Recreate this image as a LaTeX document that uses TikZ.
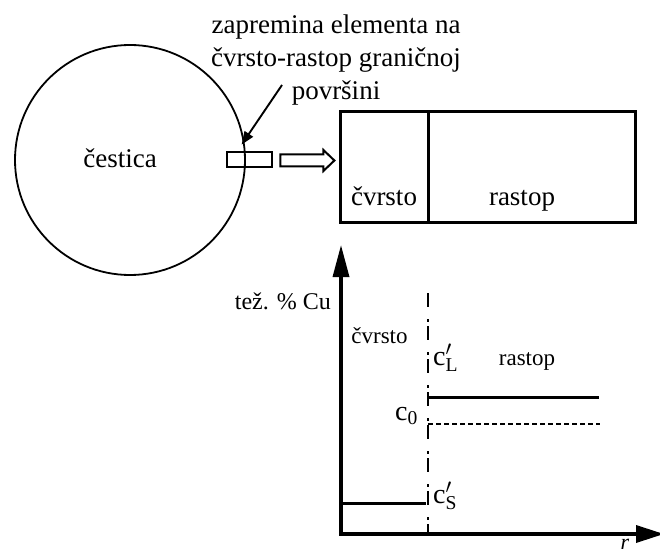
\documentclass[tikz,border=0pt]{standalone}
\usepackage{fontspec}
\setmainfont{Liberation Serif}
\usetikzlibrary{arrows.meta, positioning, calc}

\begin{document}
\begin{tikzpicture}[
    x=1pt, y=-1pt,
    txt/.style={inner sep=0pt, font=\fontsize{#1}{33}\selectfont},
    cell/.style={draw, line width=3pt, minimum height=110pt,
                 inner sep=0pt, outer sep=0pt},
    axis/.style={line width=3.4pt, line join=miter},
    iface/.style={line width=2pt,
                  dash pattern=on 14pt off 12pt on 3pt off 4pt},
    level/.style={line width=3pt},
    >=Triangle
  ]
  \useasboundingbox (0,0) rectangle (660,553);

  % Particle and volume element
  \node[draw, circle, line width=1.8pt, minimum size=230pt,
        inner sep=0pt] (particle) at (130,160) {};
  \node[txt=27, anchor=base] (plabel) at (120,168) {čestica};
  \node[draw, line width=2.8pt, minimum width=45pt, minimum height=15pt,
        inner sep=0pt] (elem) at (249.5,159.5) {};

  % Note with pointer
  \node[txt=27, align=center, anchor=north] (note) at (336,14.5)
    {zapremina elementa na\\čvrsto-rastop graničnoj\\površini};
  \coordinate (ptr) at (282,85);
  \draw[line width=1.9pt, -{Triangle[length=13pt, width=10pt]}]
    (ptr) -- ([xshift=16pt, yshift=6pt]elem.north west);

  % Hollow arrow to the enlarged element
  \draw[line width=2pt] ([xshift=7pt, yshift=5pt]elem.east)
    -- ++(43,0) -- ++(0,-4.5) -- ++(11,10.5) -- ++(-11,10.5) -- ++(0,-4.5)
    -- ++(-43,0) -- cycle;

  % Enlarged element
  \node[cell, minimum width=88pt] (solid) at (384,167) {};
  \node[cell, minimum width=207pt, right=0pt of solid] (melt) {};
  \node[txt=27, anchor=base] (lsolid) at (384,205) {čvrsto};
  \node[txt=27, anchor=base] (lmelt) at (522,205) {rastop};

  % Profile axes
  \coordinate (O) at (341,534);
  \coordinate (ytop) at (341,245);
  \coordinate (xend) at (664,534);
  \draw[axis, {Triangle[length=32pt, width=16pt]}-{Triangle[length=28pt, width=17pt]}]
    (ytop) -- (O) -- (xend);
  \node[txt=24, anchor=base east] (ylabel) at (331,309) {tež. \% Cu};
  \node[inner sep=0pt, anchor=base, font=\fontsize{22}{22}\selectfont\itshape]
    (xlabel) at (625,549) {r};

  % Interface
  \coordinate (itop) at (428,293);
  \coordinate (ibot) at (428,534);
  \draw[iface] (itop) -- (ibot);

  % Concentration levels
  \coordinate (cl) at (428,397);
  \coordinate (c0) at (428,424);
  \coordinate (cs) at (426,503);
  \draw[level] (cl) -- ++(171,0);
  \draw[line width=1.8pt, dash pattern=on 5pt off 3pt] (c0) -- ++(172,0);
  \draw[level] (cs) -- (cs -| O);

  % Labels
  \node[txt=23, anchor=base] (gsolid) at (379.5,343) {čvrsto};
  \node[txt=23, anchor=base] (gmelt) at (527,365) {rastop};
  \node[txt=28, anchor=base west] (lcl) at (433,365) {$\mathrm{c}'_{\mathrm{L}}$};
  \node[txt=28, anchor=base west] (lc0) at (395,420) {$\mathrm{c}_{\mathrm{0}}$};
  \node[txt=28, anchor=base west] (lcs) at (433,503) {$\mathrm{c}'_{\mathrm{S}}$};

\end{tikzpicture}
\end{document}
